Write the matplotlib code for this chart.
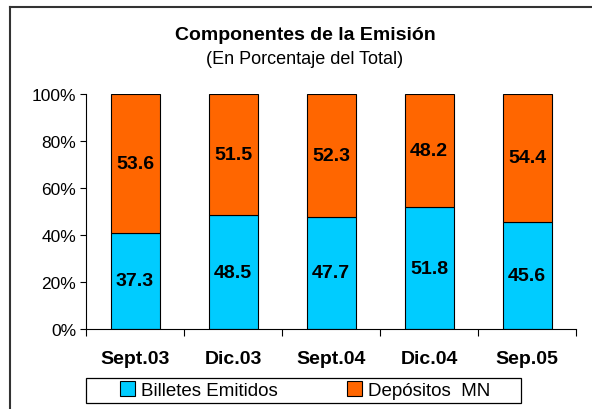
import numpy as np
import matplotlib.pyplot as plt
from matplotlib.lines import Line2D
from matplotlib.patches import Rectangle
from matplotlib.ticker import FuncFormatter

plt.rcParams['font.family'] = ['Liberation Sans', 'DejaVu Sans']

# data
periods = ['Sept.03', 'Dic.03', 'Sept.04', 'Dic.04', 'Sep.05']
billetes = [37.3, 48.5, 47.7, 51.8, 45.6]
depositos = [53.6, 51.5, 52.3, 48.2, 54.4]
series_names = ['Billetes Emitidos', 'Depósitos  MN']
colors = ['#00CCFF', '#FF6600']

b = np.array(billetes)
d = np.array(depositos)
total = b + d
b_pct = b / total * 100
d_pct = d / total * 100

fig = plt.figure(figsize=(5.92, 4.10), dpi=100)
ax = fig.add_axes([86 / 592, 1 - 330 / 410, (576 - 86) / 592, (330 - 95) / 410])

x = np.arange(len(periods))
ax.bar(x, b_pct, width=0.5, color=colors[0], edgecolor='black', linewidth=0.8,
       label=series_names[0])
ax.bar(x, d_pct, width=0.5, bottom=b_pct, color=colors[1], edgecolor='black',
       linewidth=0.8, label=series_names[1])

for i in range(len(periods)):
    ax.text(x[i], b_pct[i] / 2, f'{billetes[i]:.1f}', ha='center', va='center',
            fontsize=14, fontweight='bold')
    ax.text(x[i], b_pct[i] + d_pct[i] / 2, f'{depositos[i]:.1f}', ha='center',
            va='center', fontsize=14, fontweight='bold')

ax.set_xlim(-0.5, len(periods) - 0.5)
ax.set_ylim(0, 100)
ax.set_yticks(np.arange(0, 101, 20))
ax.yaxis.set_major_formatter(FuncFormatter(lambda v, p: f'{v:.0f}%'))
ax.tick_params(axis='y', labelsize=12.5, length=4, width=0.8, direction='out', pad=3)

# category ticks at the boundaries, labels centred under the bars
ax.set_xticks(np.arange(-0.5, len(periods), 1.0))
ax.set_xticklabels([])
ax.set_xticks(x, minor=True)
ax.set_xticklabels(periods, minor=True, fontsize=14, fontweight='bold')
ax.tick_params(axis='x', which='major', length=5, width=0.8, direction='out')
ax.tick_params(axis='x', which='minor', length=0, pad=15)

for s in ['top', 'right']:
    ax.spines[s].set_visible(False)
ax.spines['left'].set_linewidth(0.8)
ax.spines['bottom'].set_linewidth(0.8)

fig.text(305 / 592, 1 - 35 / 410, 'Componentes de la Emisión', ha='center',
         va='center', fontsize=14, fontweight='bold')
fig.text(305 / 592, 1 - 60 / 410, '(En Porcentaje del Total)', ha='center',
         va='center', fontsize=13)

# legend entries without their own frame; the wider box is drawn separately
leg = fig.legend(loc='center', bbox_to_anchor=(305 / 592, 1 - 391 / 410), ncol=2,
                 fontsize=13.5, frameon=False,
                 handlelength=0.8, handleheight=0.8, handletextpad=0.3,
                 columnspacing=3.7, borderpad=0.2)
for h in leg.legend_handles:
    h.set_edgecolor('black')
    h.set_linewidth(0.8)
fig.add_artist(Rectangle((86 / 592, 1 - 404 / 410), (521 - 86) / 592, 25 / 410,
                         fill=False, edgecolor='black', linewidth=0.9,
                         transform=fig.transFigure))

# outer chart frame: only left and top edges are visible in the crop
fig.add_artist(Line2D([10 / 592, 10 / 592], [0, 1 - 8 / 410], color='#333333',
                      linewidth=1.5, transform=fig.transFigure))
fig.add_artist(Line2D([10 / 592, 1], [1 - 8 / 410, 1 - 8 / 410], color='#333333',
                      linewidth=1.5, transform=fig.transFigure))

fig.savefig('out.png', dpi=100)
